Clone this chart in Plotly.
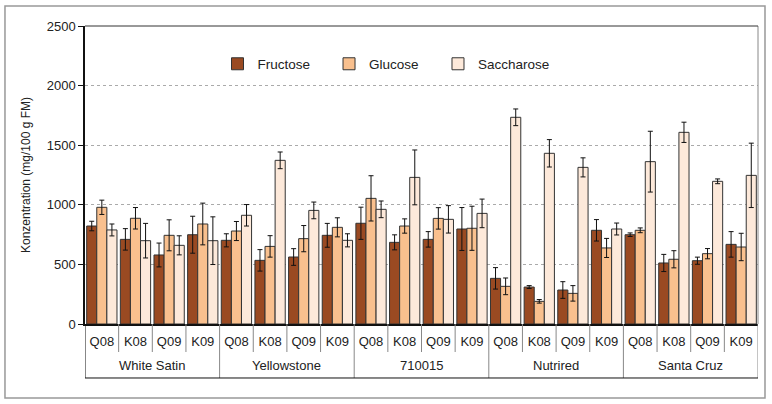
import plotly.graph_objects as go

varieties = ["White Satin", "Yellowstone", "710015", "Nutrired", "Santa Cruz"]
samples = ["Q08", "K08", "Q09", "K09"]

fructose = [822, 710, 579, 749,
            702, 534, 562, 744,
            845, 685, 710, 797,
            383, 310, 285, 786,
            749, 512, 531, 668]
fructose_err = [40, 90, 100, 155,
                55, 90, 70, 100,
                135, 63, 65, 180,
                90, 12, 70, 90,
                15, 72, 30, 107]
glucose = [979, 887, 744, 839,
           780, 651, 716, 811,
           1054, 822, 886, 803,
           316, 190, 257, 638,
           786, 543, 590, 646]
glucose_err = [60, 90, 130, 175,
               80, 90, 110, 80,
               190, 60, 90, 185,
               70, 15, 65, 80,
               20, 72, 43, 115]
saccharose = [789, 699, 660, 699,
              912, 1373, 953, 702,
              962, 1230, 878, 928,
              1734, 1432, 1314, 797,
              1362, 1608, 1197, 1247]
saccharose_err = [50, 145, 80, 200,
                  90, 70, 70, 55,
                  70, 230, 115, 120,
                  70, 115, 80, 50,
                  255, 85, 20, 270]

series = [("Fructose", fructose, fructose_err, "#9A4A22", "legend", 0.1969),
          ("Glucose", glucose, glucose_err, "#F9C08E", "legend2", 0.3626),
          ("Saccharose", saccharose, saccharose_err, "#FDE9DA", "legend3", 0.5245)]

# unique category keys (variety + sample), labelled by sample only
cats = [f"{v} {s}" for v in varieties for s in samples]
labels = [s for _ in varieties for s in samples]

fig = go.Figure()
legends = {}
for name, vals, err, col, lg, lx in series:
    fig.add_trace(go.Bar(
        x=cats, y=vals, name=name, legend=lg,
        marker=dict(color=col, line=dict(color="#333333", width=1)),
        error_y=dict(type="data", array=err, visible=True, color="#111111",
                     thickness=1, width=2.5),
    ))
    legends[lg] = dict(orientation="h", x=lx, y=0.8725, xanchor="left",
                       yanchor="middle", font=dict(size=13.5, color="#222222"),
                       bgcolor="rgba(0,0,0,0)")

n = len(cats)
k = len(samples)
y_row = -0.094   # bottom of sample-label row (paper)
y_tab = -0.1812  # bottom of variety-label row (paper)
shapes = []
for i in range(n + 1):
    xb = i - 0.5
    is_group = (i % k == 0)
    shapes.append(dict(type="line", xref="x", yref="paper",
                       x0=xb, x1=xb, y0=0, y1=(y_tab if is_group else y_row),
                       line=dict(color="#111111" if i == 0 else "#888888", width=1)))
shapes.append(dict(type="line", xref="paper", yref="paper", x0=0, x1=1,
                   y0=y_tab, y1=y_tab, line=dict(color="#111111", width=1)))
shapes.append(dict(type="line", xref="paper", yref="paper", x0=1, x1=1,
                   y0=0, y1=1, line=dict(color="#888888", width=1)))
shapes.append(dict(type="line", xref="paper", yref="paper", x0=0, x1=1,
                   y0=1, y1=1, line=dict(color="#333333", width=1)))
# outer frame
shapes.append(dict(type="rect", xref="paper", yref="paper",
                   x0=-0.1189, x1=1.0104, y0=-0.2483, y1=1.0671,
                   line=dict(color="#999999", width=1.5)))

annotations = []
for j, v in enumerate(varieties):
    annotations.append(dict(x=j * k + (k - 1) / 2, y=-0.1376, xref="x", yref="paper",
                            text=v, showarrow=False, yanchor="middle",
                            font=dict(size=13, color="#222222")))

fig.update_layout(
    width=772, height=404,
    margin=dict(l=85, r=14, t=26, b=80),
    paper_bgcolor="white", plot_bgcolor="white",
    barmode="group", bargap=0.1, bargroupgap=0,
    font=dict(family="Liberation Sans, Arial, sans-serif", size=12, color="#222222"),
    showlegend=True,
    shapes=shapes,
    annotations=annotations,
    xaxis=dict(type="category", tickmode="array", tickvals=cats, ticktext=labels,
               showline=True, linecolor="#111111", linewidth=1.5,
               ticks="outside", ticklen=5, tickcolor="rgba(0,0,0,0)",
               tickfont=dict(size=13), showgrid=False, range=[-0.5, n - 0.5]),
    yaxis=dict(range=[0, 2500], dtick=500, showline=True, linecolor="#111111",
               linewidth=1.5, ticks="outside", ticklen=5, tickcolor="#111111",
               showgrid=True, gridcolor="#AAAAAA", griddash="dot", gridwidth=1,
               zeroline=False, tickfont=dict(size=13),
               title=dict(text="Konzentration (mg/100 g FM)", font=dict(size=12),
                          standoff=14)),
    **legends,
)

fig.write_html("out.html", config={"displayModeBar": False},
               post_script="document.body.style.margin='0';")
